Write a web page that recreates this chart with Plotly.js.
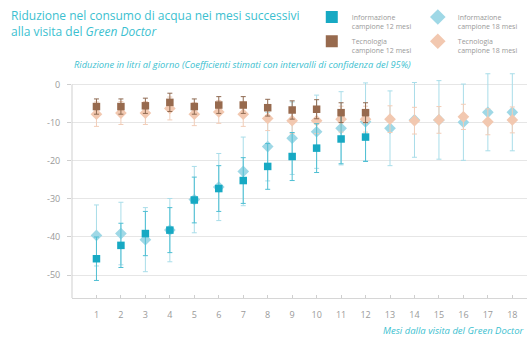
<!DOCTYPE html>
<html>
<head>
<meta charset="utf-8">
<script src="https://cdn.plot.ly/plotly-3.0.1.min.js"></script>
<style>html,body{margin:0;padding:0;background:#fff;}#chart{width:528px;height:337px;}</style>
</head>
<body>
<div id="chart"></div>
<script>
var months12 = [1,2,3,4,5,6,7,8,9,10,11,12];
var months18 = [1,2,3,4,5,6,7,8,9,10,11,12,13,14,15,16,17,18];
var tickLabels = ["1","2","3","4","5","6","7","8","9","10","11","12","13","14","15","16","17","18"];

var info12 = [-45.7,-42.2,-39.1,-38.2,-30.3,-27.3,-25.2,-21.5,-18.9,-16.7,-14.3,-13.8];
var info12Err = [5.7,5.8,5.8,5.9,6.0,6.0,6.0,6.0,6.3,6.4,6.5,6.4];
var info18 = [-39.6,-39.1,-40.7,-38.2,-30.2,-26.9,-22.8,-16.3,-14.1,-12.4,-11.5,-9.8,-11.5,-9.3,-9.3,-9.9,-7.3,-7.3];
var info18Err = [8.0,8.2,8.4,8.3,8.7,8.8,9.0,9.0,9.5,9.6,9.6,10.2,9.8,9.8,10.3,10.0,10.1,10.1];
var tec12 = [-5.8,-5.8,-5.6,-4.7,-5.8,-5.4,-5.4,-6.1,-6.7,-6.5,-7.4,-7.4];
var tec12Err = [2.0,2.0,2.0,2.4,2.0,2.2,2.2,2.2,2.4,2.5,2.6,2.6];
var tec18 = [-7.8,-7.5,-7.5,-6.3,-7.8,-7.2,-7.8,-8.9,-9.5,-9.5,-9.1,-9.1,-9.1,-9.5,-9.3,-8.5,-9.8,-9.3];
var tec18Err = [3.2,3.0,3.0,3.0,3.0,3.0,3.2,3.2,3.4,3.4,3.4,3.4,3.5,3.5,3.5,3.3,3.4,3.4];

var names = ["Informazione<br>campione 12 mesi","Informazione<br>campione 18 mesi","Tecnologia<br>campione 12 mesi","Tecnologia<br>campione 18 mesi"];

var cTeal = "#17a9c3", cLight = "#9fd8e6", cBrown = "#976a4e", cPeach = "#f2c8b0";
var FONT = "'Open Sans', Lato, sans-serif";

function tr(x, y, e, name, color, symbol, size, errColor, legend, group) {
  return {
    type: "scatter", mode: "markers", x: x, y: y, name: name, legend: legend, legendgroup: group,
    marker: {color: color, symbol: symbol, size: size, line: {width: 0}},
    error_y: {type: "data", array: e, visible: true, color: errColor, thickness: 1, width: 2.5},
    cliponaxis: false
  };
}

var data = [
  tr(months18, info18, info18Err, names[1], cLight, "diamond", 9, "#a9dde9", "legend2", "g2"),
  tr(months18, tec18, tec18Err, names[3], cPeach, "diamond", 9, "#f2cdb8", "legend2", "g4"),
  tr(months12, info12, info12Err, names[0], cTeal, "square", 7.5, "#4fbfd3", "legend", "g1"),
  tr(months12, tec12, tec12Err, names[2], cBrown, "square", 7.5, "#8f6a52", "legend", "g3")
];

var legFont = {family: FONT, size: 7, color: "#999"};

var layout = {
  width: 528, height: 337,
  margin: {l: 72, r: 1, t: 73, b: 39, autoexpand: false},
  paper_bgcolor: "#fff", plot_bgcolor: "#fff",
  font: {family: FONT, color: "#999", size: 9},
  showlegend: true,
  xaxis: {
    range: [0, 18.6], tickmode: "array", tickvals: months18, ticktext: tickLabels,
    showgrid: false, zeroline: false, showline: true, linecolor: "#d6d6d6", linewidth: 1,
    ticks: "inside", ticklen: 3, tickcolor: "#cfcfcf",
    tickfont: {family: FONT, size: 9, color: "#9a9a9a"}, ticklabelstandoff: 8,
    title: {text: ""}
  },
  yaxis: {
    range: [-56, 3], tickmode: "array", tickvals: [0,-10,-20,-30,-40,-50],
    ticktext: ["0","-10","-20","-30","-40","-50"],
    showgrid: true, gridcolor: "#e6e6e6", gridwidth: 1, zeroline: false, showline: false,
    ticks: "outside", ticklen: 4, tickcolor: "#cfcfcf",
    tickfont: {family: FONT, size: 9, color: "#9a9a9a"}, ticklabelstandoff: 5,
    title: {text: ""}
  },
  legend: {
    x: 0.527, xanchor: "left", y: 1.298, yanchor: "top", orientation: "v",
    font: legFont, valign: "top", itemwidth: 30,
    bgcolor: "rgba(0,0,0,0)", tracegroupgap: 3, itemsizing: "constant", traceorder: "grouped"
  },
  legend2: {
    x: 0.76, xanchor: "left", y: 1.298, yanchor: "top", orientation: "v",
    font: legFont, valign: "top", itemwidth: 30,
    bgcolor: "rgba(0,0,0,0)", tracegroupgap: 3, itemsizing: "constant", traceorder: "grouped"
  },
  shapes: [
    {type: "line", xref: "paper", x0: 0, x1: 0, yref: "y", y0: 0, y1: -56, line: {color: "#cfcfcf", width: 1}}
  ],
  annotations: [
    {text: "Riduzione nel consumo di acqua nei mesi successivi<br>alla visita del <i>Green Doctor</i>",
     xref: "paper", yref: "paper", x: -0.139, y: 1.3, xanchor: "left", yanchor: "top", align: "left",
     showarrow: false, font: {family: FONT, size: 12, color: "#3cbfd0"}},
    {text: "<i>Riduzione in litri al giorno (Coefficienti stimati con intervalli di confidenza del 95%)</i>",
     xref: "paper", yref: "paper", x: 0, y: 1.0, xanchor: "left", yanchor: "bottom", showarrow: false,
     font: {family: FONT, size: 9.3, color: "#3cbfd0"}},
    {text: "<i>Mesi dalla visita del Green Doctor</i>",
     xref: "paper", yref: "paper", x: 1, y: -0.145, xanchor: "right", yanchor: "middle", showarrow: false,
     font: {family: FONT, size: 9.5, color: "#3cbfd0"}}
  ]
};

Plotly.newPlot("chart", data, layout, {displayModeBar: false, staticPlot: true});
</script>
</body>
</html>
